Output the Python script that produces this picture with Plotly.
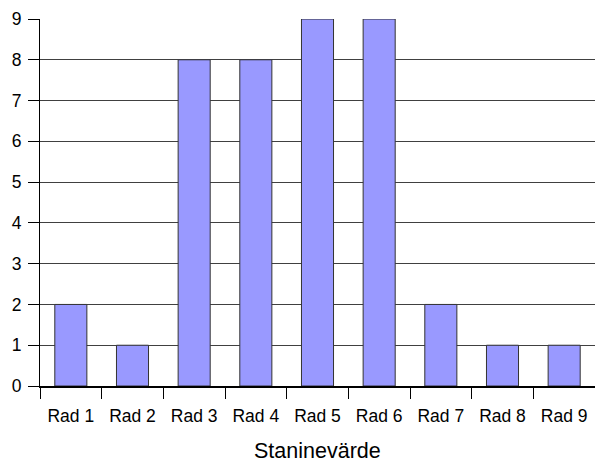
import plotly.graph_objects as go

categories = ["Rad 1", "Rad 2", "Rad 3", "Rad 4", "Rad 5", "Rad 6", "Rad 7", "Rad 8", "Rad 9"]
values = [2, 1, 8, 8, 9, 9, 2, 1, 1]
y_ticks = [0, 1, 2, 3, 4, 5, 6, 7, 8, 9]
x_title = "Staninevärde"

fig = go.Figure(go.Bar(
    x=categories, y=values,
    marker=dict(color="#9999FF", line=dict(color="#333333", width=1)),
    width=0.52,
))

fig.update_layout(
    width=595, height=463,
    margin=dict(l=40, r=0, t=19, b=77),
    paper_bgcolor="white", plot_bgcolor="white",
    font=dict(family="Liberation Sans, Arial", size=17, color="black"),
    showlegend=False,
    annotations=[dict(
        text=x_title, xref="paper", yref="paper", x=0.5, y=0,
        xanchor="center", yanchor="top", yshift=-51, showarrow=False,
        font=dict(size=21.5),
    )],
)
fig.update_xaxes(
    type="category",
    automargin=False,
    showline=True, linecolor="black", linewidth=2,
    ticks="outside", ticklen=11, tickcolor="black", tickwidth=1,
    tickson="boundaries",
    showgrid=False,
    tickfont=dict(size=17.5),
    ticklabelstandoff=13,
    range=[-0.5, 8.5],
)
fig.update_yaxes(
    automargin=False,
    range=[0, 9], tickvals=y_ticks,
    showline=True, linecolor="black", linewidth=1,
    ticks="outside", ticklen=11, tickcolor="black", tickwidth=1,
    showgrid=True, gridcolor="#404040", gridwidth=1,
    zeroline=False,
    tickfont=dict(size=17.5),
    ticklabelstandoff=3,
)

fig.write_html(
    "out.html",
    config={"displayModeBar": False},
    post_script="document.body.style.margin='0';document.body.style.overflow='hidden';",
)
